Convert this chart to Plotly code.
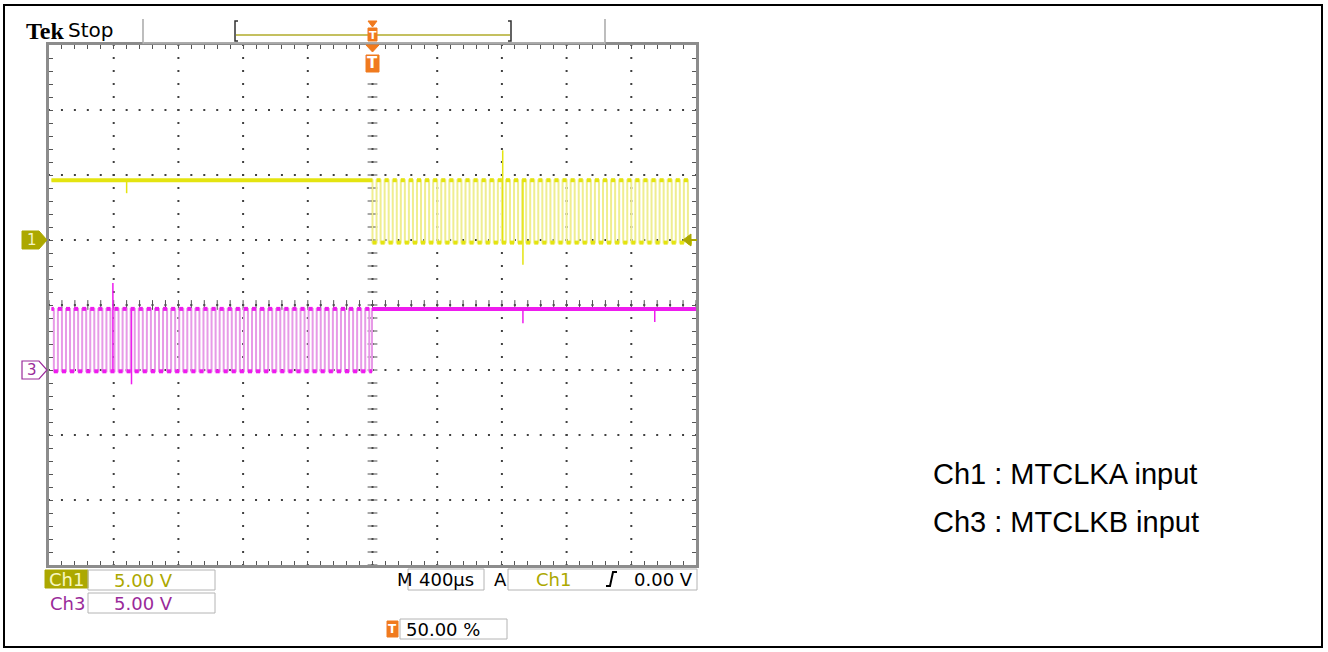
import plotly.graph_objects as go

W, H = 1328, 652

# ---------------- data ----------------
time_per_div_us = 400          # M 400us
volts_per_div = 5.0            # Ch1 / Ch3 5.00 V
x_range_us = [-2000, 2000]     # 10 divisions, trigger at 50 %
y_range_div = [-4, 4]          # 8 divisions
ch1_offset_div = 1.0           # Ch1 ground marker
ch3_offset_div = -1.0          # Ch3 ground marker

ch1_high_v, ch1_low_v = 4.6, -0.2
ch3_high_v, ch3_low_v = 4.7, -0.1
ch1_start_us, ch1_end_us = -1985, 1975
ch3_start_us, ch3_end_us = -1985, 2000

# Ch1 (MTCLKA): high until trigger, then clock
ch1_fall_us = [0, 50, 100, 150, 200, 250, 300, 350, 400, 450, 500, 550, 600, 650,
               700, 750, 800, 850, 900, 950, 1000, 1050, 1100, 1150, 1200, 1250,
               1300, 1350, 1400, 1450, 1500, 1550, 1600, 1650, 1700, 1750, 1800,
               1850, 1900, 1950]
ch1_rise_us = [25, 75, 125, 175, 225, 275, 325, 375, 425, 475, 525, 575, 625, 675,
               725, 775, 825, 875, 925, 975, 1025, 1075, 1125, 1175, 1225, 1275,
               1325, 1375, 1425, 1475, 1525, 1575, 1625, 1675, 1725, 1775, 1825,
               1875, 1925]
# Ch3 (MTCLKB): clock until trigger, then high
ch3_fall_us = [-1970, -1920, -1870, -1820, -1770, -1720, -1670, -1620, -1570, -1520,
               -1470, -1420, -1370, -1320, -1270, -1220, -1170, -1120, -1070, -1020,
               -970, -920, -870, -820, -770, -720, -670, -620, -570, -520, -470,
               -420, -370, -320, -270, -220, -170, -120, -70, -20]
ch3_rise_us = [-1945, -1895, -1845, -1795, -1745, -1695, -1645, -1595, -1545, -1495,
               -1445, -1395, -1345, -1295, -1245, -1195, -1145, -1095, -1045, -995,
               -945, -895, -845, -795, -745, -695, -645, -595, -545, -495, -445,
               -395, -345, -295, -245, -195, -145, -95, -45, -3]
# glitches
ch1_spike_us = [-1520, 805, 930]
ch1_spike_v = [3.6, 6.9, -1.9]
ch3_spike_us = [-1605, -1490, 930, 1745]
ch3_spike_v = [6.7, -1.1, 3.6, 3.7]

legend_lines = ["Ch1 : MTCLKA input", "Ch3 : MTCLKB input"]

# ---------------- colours ----------------
ch1_bright, ch1_pale = "#e4e410", "#efee90"
ch3_bright, ch3_pale = "#ee1cee", "#e79ae7"
olive, purple, orange = "#aca800", "#9a2a9a", "#f07a1e"

# ---------------- helpers ----------------
def px(x):
    return x / W

def py(y):
    return 1 - y / H

def step_series(t0, t1, start_high, falls, rises, vh, vl):
    events = sorted([(t, vl) for t in falls] + [(t, vh) for t in rises])
    lvl = vh if start_high else vl
    xs, ys = [t0], [lvl]
    for t, new in events:
        xs += [t, t]
        ys += [lvl, new]
        lvl = new
    xs.append(t1)
    ys.append(lvl)
    return xs, ys

def level_at(xs, ys, t):
    lvl = ys[0]
    for x, y in zip(xs, ys):
        if x <= t:
            lvl = y
    return lvl

def to_div(v, off):
    return v / volts_per_div + off

fig = go.Figure()

# ---------------- grid dots & centre ticks ----------------
gx, gy = [], []
for i in range(1, 10):
    xv = x_range_us[0] + i * time_per_div_us
    for j in range(41):
        gx.append(xv); gy.append(-4 + 0.2 * j)
for i in range(1, 8):
    yv = -4 + i
    for j in range(51):
        gx.append(x_range_us[0] + 80 * j); gy.append(yv)
fig.add_trace(go.Scatter(x=gx, y=gy, mode="markers", hoverinfo="skip",
                         marker=dict(symbol="square", size=2, color="#404040"),
                         showlegend=False))
fig.add_trace(go.Scatter(x=[0] * 41, y=[-4 + 0.2 * j for j in range(41)], mode="markers",
                         hoverinfo="skip", showlegend=False,
                         marker=dict(symbol="line-ew", size=7,
                                     line=dict(width=1, color="#505050"))))
fig.add_trace(go.Scatter(x=[-2000 + 80 * j for j in range(51)], y=[0] * 51, mode="markers",
                         hoverinfo="skip", showlegend=False,
                         marker=dict(symbol="line-ns", size=7,
                                     line=dict(width=1, color="#505050"))))

# ---------------- waveforms ----------------
def add_channel(t0, t1, start_high, falls, rises, vh, vl, off, bright, pale, sp_t, sp_v):
    xs, ys = step_series(t0, t1, start_high, falls, rises, vh, vl)
    yd = [to_div(v, off) for v in ys]
    fig.add_trace(go.Scatter(x=xs, y=yd, mode="lines", hoverinfo="skip", showlegend=False,
                             line=dict(color=pale, width=2)))
    hx, hy = [], []
    for k in range(len(xs) - 1):
        if ys[k] == ys[k + 1] and xs[k + 1] > xs[k]:
            hx += [xs[k], xs[k + 1], None]
            hy += [yd[k], yd[k + 1], None]
    fig.add_trace(go.Scatter(x=hx, y=hy, mode="lines", hoverinfo="skip", showlegend=False,
                             line=dict(color=bright, width=4)))
    sx, sy = [], []
    for t, v in zip(sp_t, sp_v):
        sx += [t, t, None]
        sy += [to_div(level_at(xs, ys, t), off), to_div(v, off), None]
    fig.add_trace(go.Scatter(x=sx, y=sy, mode="lines", hoverinfo="skip", showlegend=False,
                             line=dict(color=bright, width=1.5)))

add_channel(ch1_start_us, ch1_end_us, True, ch1_fall_us, ch1_rise_us,
            ch1_high_v, ch1_low_v, ch1_offset_div, ch1_bright, ch1_pale,
            ch1_spike_us, ch1_spike_v)
add_channel(ch3_start_us, ch3_end_us, True, ch3_fall_us, ch3_rise_us,
            ch3_high_v, ch3_low_v, ch3_offset_div, ch3_bright, ch3_pale,
            ch3_spike_us, ch3_spike_v)

# ---------------- axes ----------------
x0p, x1p = 49, 696
y0p, y1p = 45, 565
fig.update_xaxes(range=x_range_us, domain=[px(x0p), px(x1p)], showgrid=False,
                 zeroline=False, showticklabels=False, showline=True, linewidth=3,
                 linecolor="#8c8c8c", mirror="ticks", ticks="inside", tick0=-2000,
                 dtick=80, ticklen=4, tickwidth=1, tickcolor="#555555", fixedrange=True)
fig.update_yaxes(range=y_range_div, domain=[py(y1p), py(y0p)], showgrid=False,
                 zeroline=False, showticklabels=False, showline=True, linewidth=3,
                 linecolor="#8c8c8c", mirror="ticks", ticks="inside", tick0=-4,
                 dtick=0.2, ticklen=4, tickwidth=1, tickcolor="#555555", fixedrange=True)

shapes = []
ann = []

def rect(x0, y0, x1, y1, line="#b4b4b4", fill="rgba(0,0,0,0)", lw=1):
    shapes.append(dict(type="rect", xref="paper", yref="paper", x0=px(x0), x1=px(x1),
                       y0=py(y1), y1=py(y0), line=dict(color=line, width=lw),
                       fillcolor=fill, layer="above"))

def path(points, color, fill=None, lw=1.5, close=False):
    d = "M " + " L ".join(f"{px(a):.5f},{py(b):.5f}" for a, b in points)
    if close:
        d += " Z"
    shapes.append(dict(type="path", xref="paper", yref="paper", path=d,
                       line=dict(color=color, width=lw),
                       fillcolor=fill if fill else "rgba(0,0,0,0)", layer="above"))

def text(x, y, s, size, color, family="DejaVu Sans", anchor="left", bold=False):
    if bold:
        s = "<b>" + s + "</b>"
    ann.append(dict(xref="paper", yref="paper", x=px(x), y=py(y), text=s, showarrow=False,
                    xanchor=anchor, yanchor="middle",
                    font=dict(size=size, color=color, family=family)))

# outer frame
rect(4, 5, 1322, 647, line="#000000", lw=2)

# header
text(24, 31, "Tek", 24, "#000000", family="Liberation Serif", bold=True)
text(66, 30, "Stop", 20, "#000000", family="DejaVu Sans")
path([(143, 19), (143, 44)], "#a8a8a8", lw=1.5)
path([(605, 19), (605, 44)], "#a8a8a8", lw=1.5)
path([(143, 43), (605, 43)], "#c8c8c8", lw=1)
path([(238, 21), (235, 21), (235, 41), (238, 41)], "#303030", lw=1.5)
path([(508, 21), (511, 21), (511, 41), (508, 41)], "#303030", lw=1.5)
path([(236, 35), (510, 35)], "#c4c060", lw=2)
# small trigger marker on record bar
path([(368, 21), (377, 21), (372.5, 27)], orange, fill=orange, lw=1, close=True)
rect(368, 28, 377, 41, line=orange, fill=orange)
text(372.5, 35, "T", 11, "#ffffff", anchor="center", bold=True)
# trigger marker below frame top
path([(366, 45), (379, 45), (372.5, 52)], orange, fill=orange, lw=1, close=True)
rect(366, 55, 379, 72, line=orange, fill=orange)
text(372.5, 63, "T", 15, "#ffffff", anchor="center", bold=True)

# channel ground tags
def ypx_from_div(d):
    return y0p + (y_range_div[1] - d) / (y_range_div[1] - y_range_div[0]) * (y1p - y0p)

g1 = ypx_from_div(ch1_offset_div)
path([(22, g1 - 9), (39, g1 - 9), (47, g1), (39, g1 + 9), (22, g1 + 9)], olive,
     fill=olive, lw=1, close=True)
text(32, g1, "1", 15, "#f4f4c8", anchor="center")
g3 = ypx_from_div(ch3_offset_div)
path([(22, g3 - 9), (39, g3 - 9), (47, g3), (39, g3 + 9), (22, g3 + 9)], purple,
     fill="#ffffff", lw=1.2, close=True)
text(32, g3, "3", 15, purple, anchor="center")
# trigger level arrow (right side)
path([(683, g1), (691, g1 - 6), (691, g1 + 6)], olive, fill=olive, lw=1, close=True)
path([(691, g1), (697, g1)], olive, lw=2)

# bottom readouts
fn = "DejaVu Sans"
rect(45, 570, 88, 588, line=olive, fill=olive)
text(66, 579, "Ch1", 18, "#f8f8c0", family=fn, anchor="center")
rect(88, 570, 215, 590)
text(112, 580, "5.00 V", 18, olive, family=fn)
text(67, 603, "Ch3", 18, purple, family=fn, anchor="center")
rect(88, 593, 215, 613)
text(112, 603, "5.00 V", 18, purple, family=fn)
text(395, 579, "M", 18, "#000000", family=fn)
rect(408, 569, 484, 590)
text(446, 579, "400µs", 18, "#000000", family=fn, anchor="center")
text(492, 579, "A", 18, "#000000", family=fn)
rect(508, 569, 697, 590)
text(534, 579, "Ch1", 18, olive, family=fn)
path([(606, 586), (610, 586), (613, 572), (617, 572)], "#000000", lw=2)
text(695, 579, "0.00 V", 18, "#000000", family=fn, anchor="right")
rect(387, 621, 398, 637, line=orange, fill=orange)
text(392.5, 629, "T", 12, "#ffffff", anchor="center", bold=True)
rect(400, 619, 507, 639)
text(404, 629, "50.00 %", 18, "#000000", family=fn)

# right side legend text
text(931, 474, legend_lines[0], 29, "#000000", family="Liberation Sans")
text(931, 522, legend_lines[1], 29, "#000000", family="Liberation Sans")

fig.update_layout(width=W, height=H, margin=dict(l=0, r=0, t=0, b=0),
                  paper_bgcolor="#ffffff", plot_bgcolor="#ffffff",
                  shapes=shapes, annotations=ann, showlegend=False)
fig.write_html("out.html", config={"displayModeBar": False, "staticPlot": True},
               post_script="document.body.style.margin='0';document.body.style.overflow='hidden';")
